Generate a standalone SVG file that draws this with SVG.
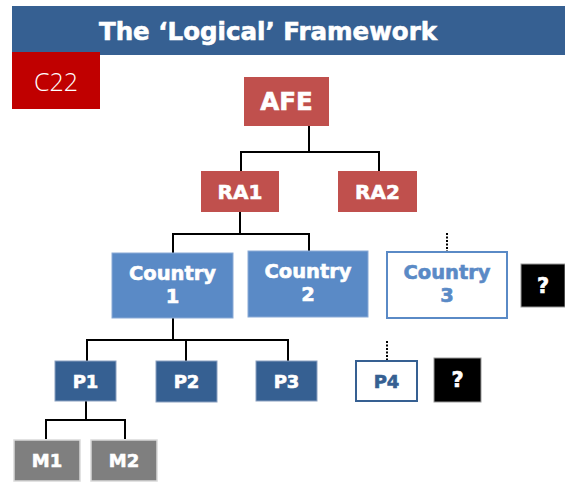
<svg xmlns="http://www.w3.org/2000/svg" width="565" height="484" viewBox="0 0 565 484">
<style>
.t{font-family:"DejaVu Sans",Verdana,sans-serif;font-weight:bold;fill:#fff;stroke:#fff;stroke-width:0.6;text-anchor:middle}
.red{fill:#c0504d}
.mid{fill:#5a8ac6;stroke:#8aaad6;stroke-width:1}
.dark{fill:#366092;stroke:#8aa0c0;stroke-width:1}
.open{fill:#fff;stroke:#5a8ac6;stroke-width:2}
.q{fill:#000;stroke:#999;stroke-width:1}
.gray{fill:#7f7f7f;stroke:#d9d9d9;stroke-width:1.5}
.ln{fill:none;stroke:#000;stroke-width:2}
.dot{fill:none;stroke:#000;stroke-width:2;stroke-dasharray:2 1.5}
</style>
<rect x="12" y="6" width="553" height="49" fill="#366092"/>
<text x="268" y="40" class="t" font-size="24.5">The ‘Logical’ Framework</text>
<g id="c22">
<rect x="12" y="52" width="88" height="57" fill="#c00000"/>
<text x="56" y="91" font-family="'Open Sans','Liberation Sans',sans-serif" font-weight="300" font-size="25" fill="#fff" text-anchor="middle">C22</text>
</g>
<g id="connectors">
<path class="ln" d="M309 126V152M241 171V152H379V171"/>
<path class="ln" d="M240 212V234M173 253V234H309V251"/>
<path class="ln" d="M173 318V340M87 361V340H288V361M186 340V361"/>
<path class="ln" d="M86 401V420M46 439V420H125V439"/>
<path class="dot" d="M447 233V251"/>
<path class="dot" d="M387 341V360"/>
</g>
<g id="AFE"><rect class="red" x="244" y="77" width="85" height="49"/><text class="t" x="286.5" y="110" font-size="24.5">AFE</text></g>
<g id="RA1"><rect class="red" x="201" y="171" width="78" height="41"/><text class="t" x="240" y="199" font-size="20">RA1</text></g>
<g id="RA2"><rect class="red" x="338" y="171" width="79" height="41"/><text class="t" x="377.5" y="199" font-size="20">RA2</text></g>
<g id="country1"><rect class="mid" x="112" y="253" width="121" height="65"/><text class="t" x="172.5" y="280" font-size="19.5">Country</text><text class="t" x="172.5" y="303" font-size="19.5">1</text></g>
<g id="country2"><rect class="mid" x="248" y="251" width="120" height="66"/><text class="t" x="308" y="278" font-size="19.5">Country</text><text class="t" x="308" y="301" font-size="19.5">2</text></g>
<g id="country3"><rect class="open" x="387" y="252" width="120" height="66"/><text class="t" x="447" y="279" font-size="19.5" style="fill:#5a8ac6;stroke:#5a8ac6">Country</text><text class="t" x="447" y="302" font-size="19.5" style="fill:#5a8ac6;stroke:#5a8ac6">3</text></g>
<g id="q1"><rect class="q" x="521" y="264" width="44" height="43"/><text class="t" x="543" y="293" font-size="21">?</text></g>
<g id="P1"><rect class="dark" x="55" y="361" width="61" height="40"/><text class="t" x="85.5" y="388" font-size="18">P1</text></g>
<g id="P2"><rect class="dark" x="156" y="361" width="61" height="41"/><text class="t" x="186.5" y="388" font-size="18">P2</text></g>
<g id="P3"><rect class="dark" x="256" y="361" width="61" height="40"/><text class="t" x="286.5" y="388" font-size="18">P3</text></g>
<g id="P4"><rect class="open" x="356" y="361" width="61" height="40" style="stroke:#366092"/><text class="t" x="386.5" y="388" font-size="18" style="fill:#366092;stroke:#366092">P4</text></g>
<g id="q2"><rect class="q" x="434" y="358" width="47" height="44"/><text class="t" x="457.5" y="387" font-size="21">?</text></g>
<g id="M1"><rect class="gray" x="14" y="440" width="66" height="41"/><text class="t" x="47" y="467" font-size="18">M1</text></g>
<g id="M2"><rect class="gray" x="91" y="440" width="66" height="41"/><text class="t" x="124" y="467" font-size="18">M2</text></g>
</svg>
